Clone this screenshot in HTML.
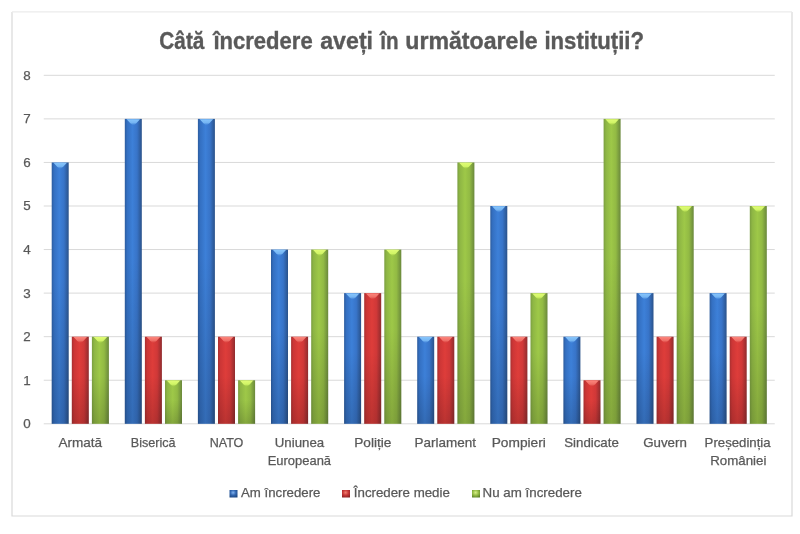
<!DOCTYPE html>
<html><head><meta charset="utf-8"><style>
html,body{margin:0;padding:0;background:#fff;width:800px;height:534px;overflow:hidden}
svg{display:block;will-change:transform}
.ax{font-family:"Liberation Sans",sans-serif;font-size:12.7px;fill:#595959;stroke:#595959;stroke-width:0.25px}
.yl{font-size:13.4px}
.ti{font-family:"Liberation Sans",sans-serif;font-size:23.8px;font-weight:bold;fill:#595959;stroke:#595959;stroke-width:0.35px}
</style></head><body>
<svg width="800" height="534" viewBox="0 0 800 534">
<defs>
<linearGradient id="gb" x1="0" x2="1" y1="0" y2="0">
<stop offset="0" stop-color="#2c5c9e"/><stop offset="0.14" stop-color="#3470c2"/><stop offset="0.45" stop-color="#3d80d8"/><stop offset="0.72" stop-color="#3874c8"/><stop offset="1" stop-color="#2a528a"/>
</linearGradient>
<linearGradient id="gr" x1="0" x2="1" y1="0" y2="0">
<stop offset="0" stop-color="#a83030"/><stop offset="0.14" stop-color="#cc3636"/><stop offset="0.45" stop-color="#de3d3a"/><stop offset="0.72" stop-color="#d03838"/><stop offset="1" stop-color="#902c2e"/>
</linearGradient>
<linearGradient id="gg" x1="0" x2="1" y1="0" y2="0">
<stop offset="0" stop-color="#7a9e40"/><stop offset="0.14" stop-color="#8eb644"/><stop offset="0.45" stop-color="#9ec848"/><stop offset="0.72" stop-color="#92ba44"/><stop offset="1" stop-color="#6a883c"/>
</linearGradient>
<linearGradient id="cb" x1="0" x2="0" y1="0" y2="1"><stop offset="0" stop-color="#8ccaff"/><stop offset="0.6" stop-color="#78b8f4"/><stop offset="1" stop-color="#4a8ade" stop-opacity="0.2"/></linearGradient>
<linearGradient id="cr" x1="0" x2="0" y1="0" y2="1"><stop offset="0" stop-color="#ff8a80"/><stop offset="0.6" stop-color="#f07068"/><stop offset="1" stop-color="#d84040" stop-opacity="0.2"/></linearGradient>
<linearGradient id="cg" x1="0" x2="0" y1="0" y2="1"><stop offset="0" stop-color="#e4ff78"/><stop offset="0.6" stop-color="#d4f868"/><stop offset="1" stop-color="#a8d048" stop-opacity="0.2"/></linearGradient>
<filter id="bl" x="-20%" y="-20%" width="140%" height="140%"><feGaussianBlur stdDeviation="0.5"/></filter>
<radialGradient id="lb" cx="0.45" cy="0.35" r="0.7"><stop offset="0" stop-color="#7fb2f0"/><stop offset="0.5" stop-color="#3266b0"/><stop offset="1" stop-color="#1c4680"/></radialGradient>
<radialGradient id="lr" cx="0.45" cy="0.35" r="0.7"><stop offset="0" stop-color="#f08070"/><stop offset="0.5" stop-color="#c83838"/><stop offset="1" stop-color="#8a2222"/></radialGradient>
<radialGradient id="lg" cx="0.45" cy="0.35" r="0.7"><stop offset="0" stop-color="#d8f088"/><stop offset="0.5" stop-color="#98be48"/><stop offset="1" stop-color="#5e8228"/></radialGradient>
<linearGradient id="vd" x1="0" x2="0" y1="0" y2="1"><stop offset="0" stop-color="#000" stop-opacity="0"/><stop offset="0.45" stop-color="#000" stop-opacity="0"/><stop offset="1" stop-color="#000" stop-opacity="0.16"/></linearGradient>
</defs>
<path d="M12,12 V516 H792 V12" fill="none" stroke="#d9d9d9" stroke-width="1.2"/><line x1="12" y1="11.8" x2="792" y2="11.8" stroke="#ebebeb" stroke-width="1.2"/>
<line x1="43.75" y1="423.80" x2="774.75" y2="423.80" stroke="#d9d9d9" stroke-width="1"/>
<line x1="43.75" y1="380.24" x2="774.75" y2="380.24" stroke="#d9d9d9" stroke-width="1"/>
<line x1="43.75" y1="336.68" x2="774.75" y2="336.68" stroke="#d9d9d9" stroke-width="1"/>
<line x1="43.75" y1="293.12" x2="774.75" y2="293.12" stroke="#d9d9d9" stroke-width="1"/>
<line x1="43.75" y1="249.56" x2="774.75" y2="249.56" stroke="#d9d9d9" stroke-width="1"/>
<line x1="43.75" y1="206.00" x2="774.75" y2="206.00" stroke="#d9d9d9" stroke-width="1"/>
<line x1="43.75" y1="162.44" x2="774.75" y2="162.44" stroke="#d9d9d9" stroke-width="1"/>
<line x1="43.75" y1="118.88" x2="774.75" y2="118.88" stroke="#d9d9d9" stroke-width="1"/>
<line x1="43.75" y1="75.32" x2="774.75" y2="75.32" stroke="#d9d9d9" stroke-width="1"/>
<rect x="51.70" y="162.44" width="17.0" height="261.36" fill="url(#gb)"/>
<rect x="51.70" y="162.44" width="17.0" height="261.36" fill="url(#vd)"/>
<path d="M53.50,162.74 C56.50,165.94 58.70,168.64 60.20,168.94 C61.70,168.64 63.90,165.94 66.90,162.74 Z" opacity="0.95" fill="url(#cb)" filter="url(#bl)"/>
<rect x="71.80" y="336.68" width="17.0" height="87.12" fill="url(#gr)"/>
<rect x="71.80" y="336.68" width="17.0" height="87.12" fill="url(#vd)"/>
<path d="M73.60,336.98 C76.60,340.18 78.80,342.88 80.30,343.18 C81.80,342.88 84.00,340.18 87.00,336.98 Z" opacity="0.95" fill="url(#cr)" filter="url(#bl)"/>
<rect x="91.90" y="336.68" width="17.0" height="87.12" fill="url(#gg)"/>
<rect x="91.90" y="336.68" width="17.0" height="87.12" fill="url(#vd)"/>
<path d="M93.70,336.98 C96.70,340.18 98.90,342.88 100.40,343.18 C101.90,342.88 104.10,340.18 107.10,336.98 Z" opacity="0.95" fill="url(#cg)" filter="url(#bl)"/>
<rect x="124.80" y="118.88" width="17.0" height="304.92" fill="url(#gb)"/>
<rect x="124.80" y="118.88" width="17.0" height="304.92" fill="url(#vd)"/>
<path d="M126.60,119.18 C129.60,122.38 131.80,125.08 133.30,125.38 C134.80,125.08 137.00,122.38 140.00,119.18 Z" opacity="0.95" fill="url(#cb)" filter="url(#bl)"/>
<rect x="144.90" y="336.68" width="17.0" height="87.12" fill="url(#gr)"/>
<rect x="144.90" y="336.68" width="17.0" height="87.12" fill="url(#vd)"/>
<path d="M146.70,336.98 C149.70,340.18 151.90,342.88 153.40,343.18 C154.90,342.88 157.10,340.18 160.10,336.98 Z" opacity="0.95" fill="url(#cr)" filter="url(#bl)"/>
<rect x="165.00" y="380.24" width="17.0" height="43.56" fill="url(#gg)"/>
<rect x="165.00" y="380.24" width="17.0" height="43.56" fill="url(#vd)"/>
<path d="M166.80,380.54 C169.80,383.74 172.00,386.44 173.50,386.74 C175.00,386.44 177.20,383.74 180.20,380.54 Z" opacity="0.95" fill="url(#cg)" filter="url(#bl)"/>
<rect x="197.90" y="118.88" width="17.0" height="304.92" fill="url(#gb)"/>
<rect x="197.90" y="118.88" width="17.0" height="304.92" fill="url(#vd)"/>
<path d="M199.70,119.18 C202.70,122.38 204.90,125.08 206.40,125.38 C207.90,125.08 210.10,122.38 213.10,119.18 Z" opacity="0.95" fill="url(#cb)" filter="url(#bl)"/>
<rect x="218.00" y="336.68" width="17.0" height="87.12" fill="url(#gr)"/>
<rect x="218.00" y="336.68" width="17.0" height="87.12" fill="url(#vd)"/>
<path d="M219.80,336.98 C222.80,340.18 225.00,342.88 226.50,343.18 C228.00,342.88 230.20,340.18 233.20,336.98 Z" opacity="0.95" fill="url(#cr)" filter="url(#bl)"/>
<rect x="238.10" y="380.24" width="17.0" height="43.56" fill="url(#gg)"/>
<rect x="238.10" y="380.24" width="17.0" height="43.56" fill="url(#vd)"/>
<path d="M239.90,380.54 C242.90,383.74 245.10,386.44 246.60,386.74 C248.10,386.44 250.30,383.74 253.30,380.54 Z" opacity="0.95" fill="url(#cg)" filter="url(#bl)"/>
<rect x="271.00" y="249.56" width="17.0" height="174.24" fill="url(#gb)"/>
<rect x="271.00" y="249.56" width="17.0" height="174.24" fill="url(#vd)"/>
<path d="M272.80,249.86 C275.80,253.06 278.00,255.76 279.50,256.06 C281.00,255.76 283.20,253.06 286.20,249.86 Z" opacity="0.95" fill="url(#cb)" filter="url(#bl)"/>
<rect x="291.10" y="336.68" width="17.0" height="87.12" fill="url(#gr)"/>
<rect x="291.10" y="336.68" width="17.0" height="87.12" fill="url(#vd)"/>
<path d="M292.90,336.98 C295.90,340.18 298.10,342.88 299.60,343.18 C301.10,342.88 303.30,340.18 306.30,336.98 Z" opacity="0.95" fill="url(#cr)" filter="url(#bl)"/>
<rect x="311.20" y="249.56" width="17.0" height="174.24" fill="url(#gg)"/>
<rect x="311.20" y="249.56" width="17.0" height="174.24" fill="url(#vd)"/>
<path d="M313.00,249.86 C316.00,253.06 318.20,255.76 319.70,256.06 C321.20,255.76 323.40,253.06 326.40,249.86 Z" opacity="0.95" fill="url(#cg)" filter="url(#bl)"/>
<rect x="344.10" y="293.12" width="17.0" height="130.68" fill="url(#gb)"/>
<rect x="344.10" y="293.12" width="17.0" height="130.68" fill="url(#vd)"/>
<path d="M345.90,293.42 C348.90,296.62 351.10,299.32 352.60,299.62 C354.10,299.32 356.30,296.62 359.30,293.42 Z" opacity="0.95" fill="url(#cb)" filter="url(#bl)"/>
<rect x="364.20" y="293.12" width="17.0" height="130.68" fill="url(#gr)"/>
<rect x="364.20" y="293.12" width="17.0" height="130.68" fill="url(#vd)"/>
<path d="M366.00,293.42 C369.00,296.62 371.20,299.32 372.70,299.62 C374.20,299.32 376.40,296.62 379.40,293.42 Z" opacity="0.95" fill="url(#cr)" filter="url(#bl)"/>
<rect x="384.30" y="249.56" width="17.0" height="174.24" fill="url(#gg)"/>
<rect x="384.30" y="249.56" width="17.0" height="174.24" fill="url(#vd)"/>
<path d="M386.10,249.86 C389.10,253.06 391.30,255.76 392.80,256.06 C394.30,255.76 396.50,253.06 399.50,249.86 Z" opacity="0.95" fill="url(#cg)" filter="url(#bl)"/>
<rect x="417.20" y="336.68" width="17.0" height="87.12" fill="url(#gb)"/>
<rect x="417.20" y="336.68" width="17.0" height="87.12" fill="url(#vd)"/>
<path d="M419.00,336.98 C422.00,340.18 424.20,342.88 425.70,343.18 C427.20,342.88 429.40,340.18 432.40,336.98 Z" opacity="0.95" fill="url(#cb)" filter="url(#bl)"/>
<rect x="437.30" y="336.68" width="17.0" height="87.12" fill="url(#gr)"/>
<rect x="437.30" y="336.68" width="17.0" height="87.12" fill="url(#vd)"/>
<path d="M439.10,336.98 C442.10,340.18 444.30,342.88 445.80,343.18 C447.30,342.88 449.50,340.18 452.50,336.98 Z" opacity="0.95" fill="url(#cr)" filter="url(#bl)"/>
<rect x="457.40" y="162.44" width="17.0" height="261.36" fill="url(#gg)"/>
<rect x="457.40" y="162.44" width="17.0" height="261.36" fill="url(#vd)"/>
<path d="M459.20,162.74 C462.20,165.94 464.40,168.64 465.90,168.94 C467.40,168.64 469.60,165.94 472.60,162.74 Z" opacity="0.95" fill="url(#cg)" filter="url(#bl)"/>
<rect x="490.30" y="206.00" width="17.0" height="217.80" fill="url(#gb)"/>
<rect x="490.30" y="206.00" width="17.0" height="217.80" fill="url(#vd)"/>
<path d="M492.10,206.30 C495.10,209.50 497.30,212.20 498.80,212.50 C500.30,212.20 502.50,209.50 505.50,206.30 Z" opacity="0.95" fill="url(#cb)" filter="url(#bl)"/>
<rect x="510.40" y="336.68" width="17.0" height="87.12" fill="url(#gr)"/>
<rect x="510.40" y="336.68" width="17.0" height="87.12" fill="url(#vd)"/>
<path d="M512.20,336.98 C515.20,340.18 517.40,342.88 518.90,343.18 C520.40,342.88 522.60,340.18 525.60,336.98 Z" opacity="0.95" fill="url(#cr)" filter="url(#bl)"/>
<rect x="530.50" y="293.12" width="17.0" height="130.68" fill="url(#gg)"/>
<rect x="530.50" y="293.12" width="17.0" height="130.68" fill="url(#vd)"/>
<path d="M532.30,293.42 C535.30,296.62 537.50,299.32 539.00,299.62 C540.50,299.32 542.70,296.62 545.70,293.42 Z" opacity="0.95" fill="url(#cg)" filter="url(#bl)"/>
<rect x="563.40" y="336.68" width="17.0" height="87.12" fill="url(#gb)"/>
<rect x="563.40" y="336.68" width="17.0" height="87.12" fill="url(#vd)"/>
<path d="M565.20,336.98 C568.20,340.18 570.40,342.88 571.90,343.18 C573.40,342.88 575.60,340.18 578.60,336.98 Z" opacity="0.95" fill="url(#cb)" filter="url(#bl)"/>
<rect x="583.50" y="380.24" width="17.0" height="43.56" fill="url(#gr)"/>
<rect x="583.50" y="380.24" width="17.0" height="43.56" fill="url(#vd)"/>
<path d="M585.30,380.54 C588.30,383.74 590.50,386.44 592.00,386.74 C593.50,386.44 595.70,383.74 598.70,380.54 Z" opacity="0.95" fill="url(#cr)" filter="url(#bl)"/>
<rect x="603.60" y="118.88" width="17.0" height="304.92" fill="url(#gg)"/>
<rect x="603.60" y="118.88" width="17.0" height="304.92" fill="url(#vd)"/>
<path d="M605.40,119.18 C608.40,122.38 610.60,125.08 612.10,125.38 C613.60,125.08 615.80,122.38 618.80,119.18 Z" opacity="0.95" fill="url(#cg)" filter="url(#bl)"/>
<rect x="636.50" y="293.12" width="17.0" height="130.68" fill="url(#gb)"/>
<rect x="636.50" y="293.12" width="17.0" height="130.68" fill="url(#vd)"/>
<path d="M638.30,293.42 C641.30,296.62 643.50,299.32 645.00,299.62 C646.50,299.32 648.70,296.62 651.70,293.42 Z" opacity="0.95" fill="url(#cb)" filter="url(#bl)"/>
<rect x="656.60" y="336.68" width="17.0" height="87.12" fill="url(#gr)"/>
<rect x="656.60" y="336.68" width="17.0" height="87.12" fill="url(#vd)"/>
<path d="M658.40,336.98 C661.40,340.18 663.60,342.88 665.10,343.18 C666.60,342.88 668.80,340.18 671.80,336.98 Z" opacity="0.95" fill="url(#cr)" filter="url(#bl)"/>
<rect x="676.70" y="206.00" width="17.0" height="217.80" fill="url(#gg)"/>
<rect x="676.70" y="206.00" width="17.0" height="217.80" fill="url(#vd)"/>
<path d="M678.50,206.30 C681.50,209.50 683.70,212.20 685.20,212.50 C686.70,212.20 688.90,209.50 691.90,206.30 Z" opacity="0.95" fill="url(#cg)" filter="url(#bl)"/>
<rect x="709.60" y="293.12" width="17.0" height="130.68" fill="url(#gb)"/>
<rect x="709.60" y="293.12" width="17.0" height="130.68" fill="url(#vd)"/>
<path d="M711.40,293.42 C714.40,296.62 716.60,299.32 718.10,299.62 C719.60,299.32 721.80,296.62 724.80,293.42 Z" opacity="0.95" fill="url(#cb)" filter="url(#bl)"/>
<rect x="729.70" y="336.68" width="17.0" height="87.12" fill="url(#gr)"/>
<rect x="729.70" y="336.68" width="17.0" height="87.12" fill="url(#vd)"/>
<path d="M731.50,336.98 C734.50,340.18 736.70,342.88 738.20,343.18 C739.70,342.88 741.90,340.18 744.90,336.98 Z" opacity="0.95" fill="url(#cr)" filter="url(#bl)"/>
<rect x="749.80" y="206.00" width="17.0" height="217.80" fill="url(#gg)"/>
<rect x="749.80" y="206.00" width="17.0" height="217.80" fill="url(#vd)"/>
<path d="M751.60,206.30 C754.60,209.50 756.80,212.20 758.30,212.50 C759.80,212.20 762.00,209.50 765.00,206.30 Z" opacity="0.95" fill="url(#cg)" filter="url(#bl)"/>
<rect x="229.5" y="490" width="8" height="7.5" fill="url(#lb)"/>
<rect x="342" y="490" width="8" height="7.5" fill="url(#lr)"/>
<rect x="472" y="490" width="8" height="7.5" fill="url(#lg)"/>
<text x="27.00" y="428.20" class="ax yl" text-anchor="middle">0</text>
<text x="27.00" y="384.64" class="ax yl" text-anchor="middle">1</text>
<text x="27.00" y="341.08" class="ax yl" text-anchor="middle">2</text>
<text x="27.00" y="297.52" class="ax yl" text-anchor="middle">3</text>
<text x="27.00" y="253.96" class="ax yl" text-anchor="middle">4</text>
<text x="27.00" y="210.40" class="ax yl" text-anchor="middle">5</text>
<text x="27.00" y="166.84" class="ax yl" text-anchor="middle">6</text>
<text x="27.00" y="123.28" class="ax yl" text-anchor="middle">7</text>
<text x="27.00" y="79.72" class="ax yl" text-anchor="middle">8</text>
<text x="58.44" y="447.00" class="ax" text-anchor="start" textLength="43.72" lengthAdjust="spacingAndGlyphs">Armată</text>
<text x="130.76" y="447.00" class="ax" text-anchor="start" textLength="44.84" lengthAdjust="spacingAndGlyphs">Biserică</text>
<text x="209.70" y="447.00" class="ax" text-anchor="start" textLength="33.70" lengthAdjust="spacingAndGlyphs">NATO</text>
<text x="274.76" y="447.00" class="ax" text-anchor="start" textLength="49.40" lengthAdjust="spacingAndGlyphs">Uniunea</text>
<text x="267.76" y="465.10" class="ax" text-anchor="start" textLength="63.28" lengthAdjust="spacingAndGlyphs">Europeană</text>
<text x="354.20" y="447.00" class="ax" text-anchor="start" textLength="37.20" lengthAdjust="spacingAndGlyphs">Poliție</text>
<text x="414.64" y="447.00" class="ax" text-anchor="start" textLength="61.40" lengthAdjust="spacingAndGlyphs">Parlament</text>
<text x="491.70" y="447.00" class="ax" text-anchor="start" textLength="54.14" lengthAdjust="spacingAndGlyphs">Pompieri</text>
<text x="564.20" y="447.00" class="ax" text-anchor="start" textLength="54.64" lengthAdjust="spacingAndGlyphs">Sindicate</text>
<text x="643.20" y="447.00" class="ax" text-anchor="start" textLength="43.64" lengthAdjust="spacingAndGlyphs">Guvern</text>
<text x="704.64" y="447.00" class="ax" text-anchor="start" textLength="65.96" lengthAdjust="spacingAndGlyphs">Președinția</text>
<text x="710.20" y="465.10" class="ax" text-anchor="start" textLength="56.20" lengthAdjust="spacingAndGlyphs">României</text>
<text x="159.30" y="48.50" class="ti" text-anchor="start" textLength="45.10" lengthAdjust="spacingAndGlyphs">Câtă</text>
<text x="213.40" y="48.50" class="ti" text-anchor="start" textLength="99.30" lengthAdjust="spacingAndGlyphs">încredere</text>
<text x="320.24" y="48.50" class="ti" text-anchor="start" textLength="52.82" lengthAdjust="spacingAndGlyphs">aveți</text>
<text x="380.15" y="48.50" class="ti" text-anchor="start" textLength="18.35" lengthAdjust="spacingAndGlyphs">în</text>
<text x="405.25" y="48.50" class="ti" text-anchor="start" textLength="132.45" lengthAdjust="spacingAndGlyphs">următoarele</text>
<text x="544.44" y="48.50" class="ti" text-anchor="start" textLength="99.62" lengthAdjust="spacingAndGlyphs">instituții?</text>
<text x="241.00" y="497.40" class="ax" text-anchor="start" textLength="79.40" lengthAdjust="spacingAndGlyphs">Am încredere</text>
<text x="353.80" y="497.40" class="ax" text-anchor="start" textLength="96.04" lengthAdjust="spacingAndGlyphs">Încredere medie</text>
<text x="482.64" y="497.40" class="ax" text-anchor="start" textLength="99.20" lengthAdjust="spacingAndGlyphs">Nu am încredere</text>
</svg>
</body></html>
